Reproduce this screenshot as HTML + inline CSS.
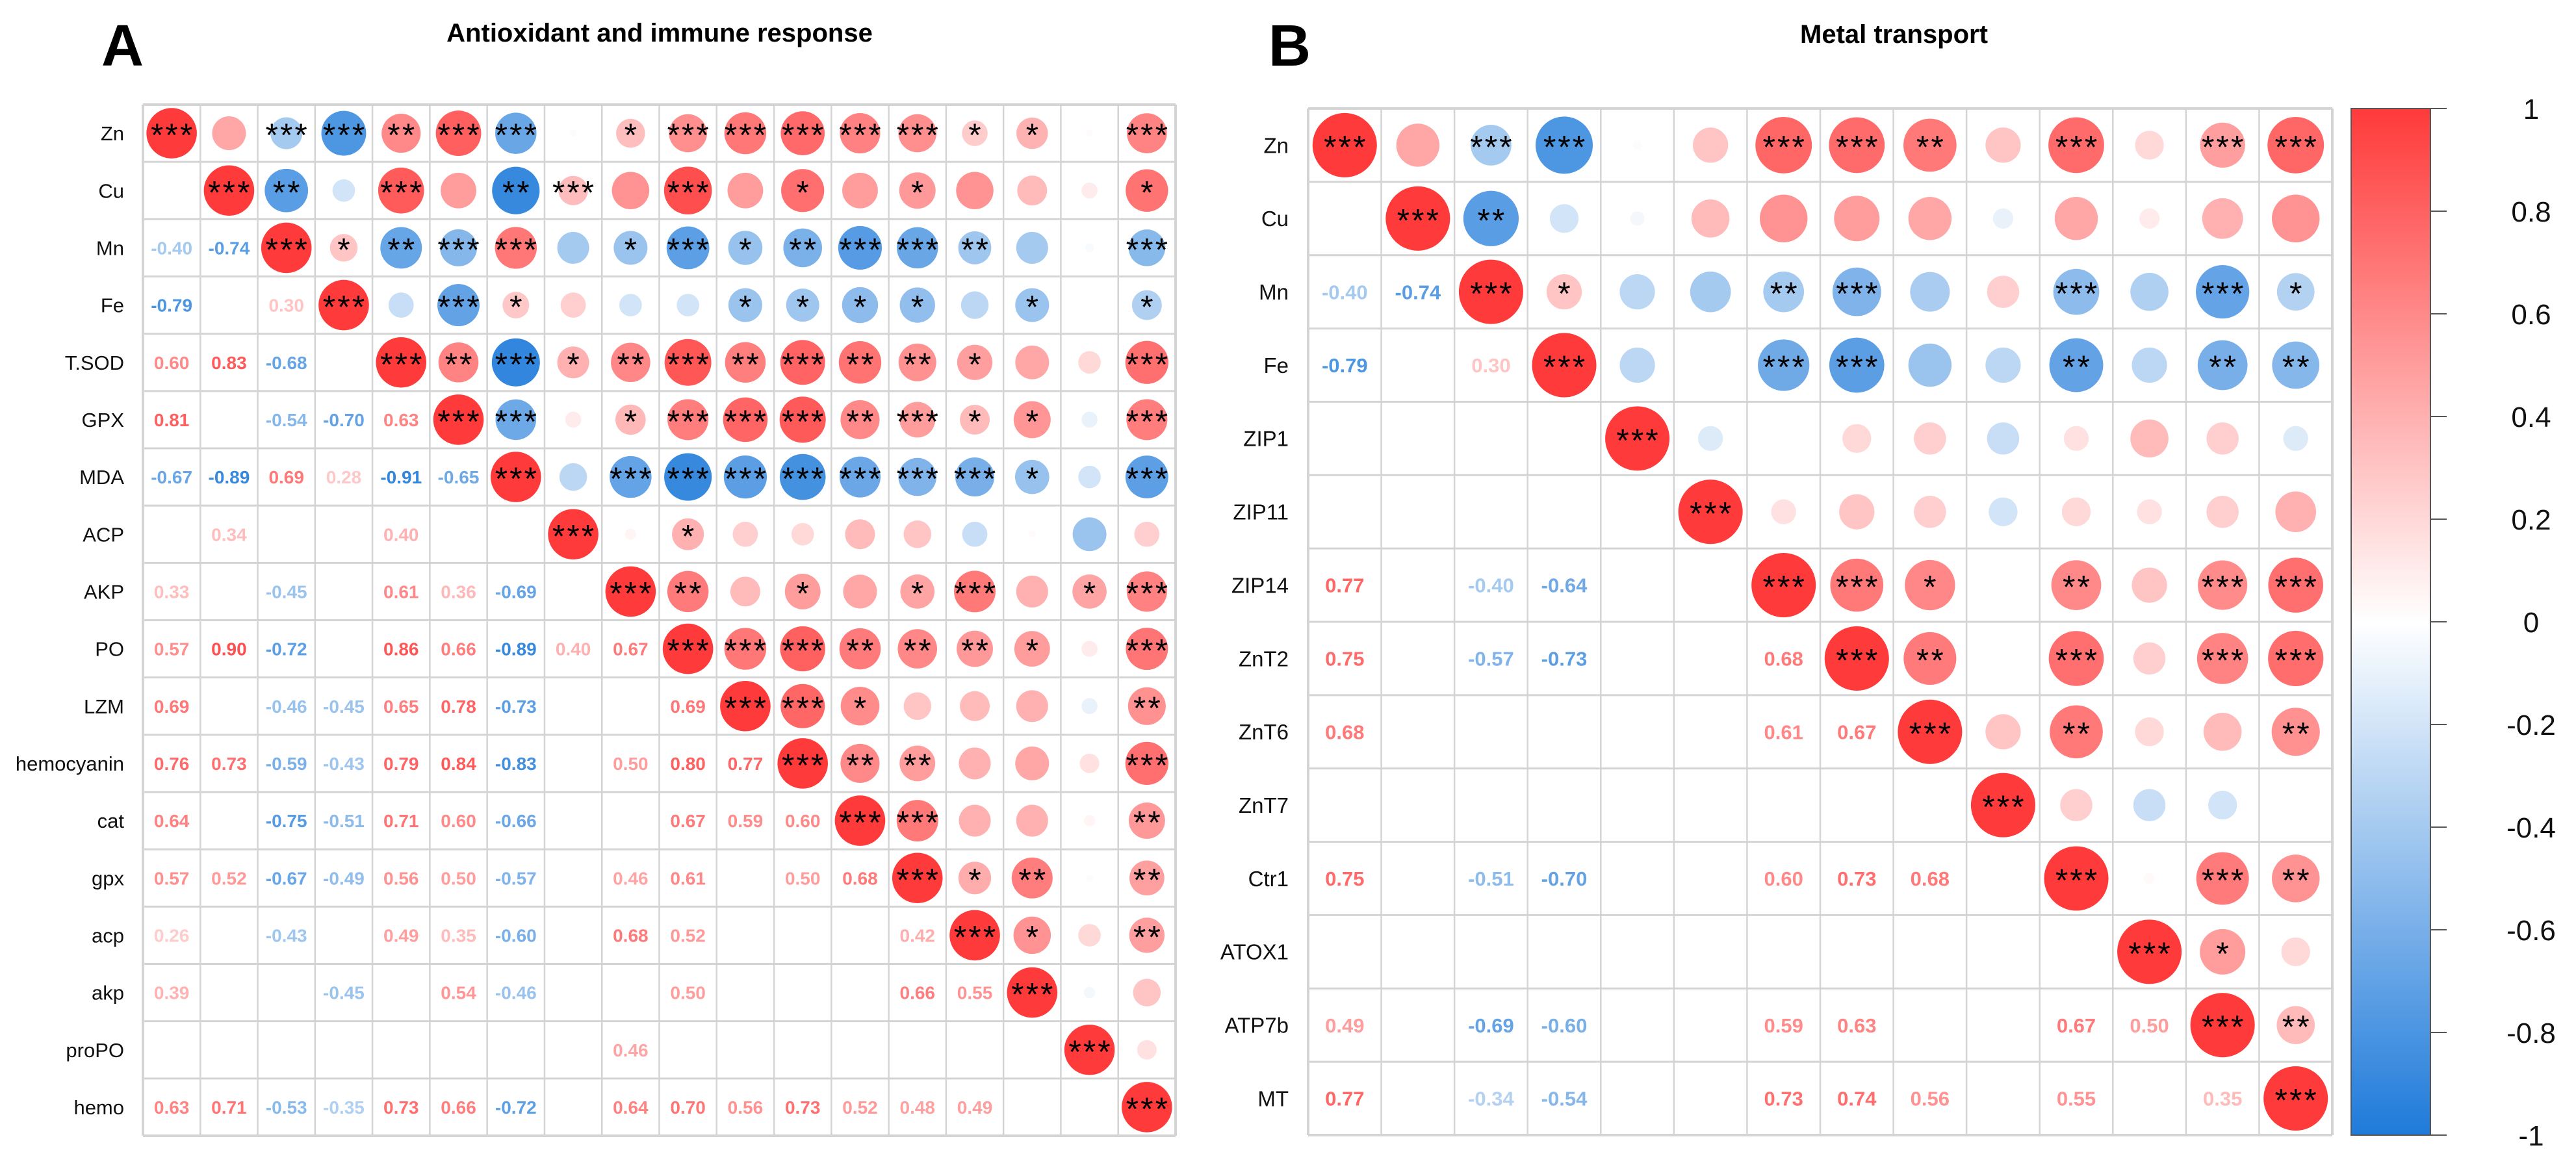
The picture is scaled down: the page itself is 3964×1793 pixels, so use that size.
<!DOCTYPE html>
<html><head><meta charset="utf-8"><title>Correlation plots</title>
<style>
html,body{margin:0;padding:0;background:#fff;}
svg{display:block;font-family:"Liberation Sans",Arial,sans-serif;}
</style></head>
<body>
<svg id="chart" xmlns="http://www.w3.org/2000/svg" width="3964" height="1793" viewBox="0 0 3964 1793">
<defs>
<linearGradient id="cbgrad" x1="0" y1="0" x2="0" y2="1">
<stop offset="0" stop-color="rgb(255,58,58)"/>
<stop offset="0.5" stop-color="rgb(255,255,255)"/>
<stop offset="1" stop-color="rgb(30,122,218)"/>
</linearGradient>
</defs>
<text x="156" y="101" font-size="90" font-weight="bold">A</text>
<text x="1015" y="64" font-size="40" font-weight="bold" text-anchor="middle">Antioxidant and immune response</text>
<text x="1952" y="101" font-size="90" font-weight="bold">B</text>
<text x="2770" y="66" font-size="40" font-weight="bold">Metal transport</text>
<g id="panelA"></g>
<g id="panelB"></g>
<g id="cbar"></g>
</svg>
<script>
// ---- Panel A data ----
const labelsA = ["Zn","Cu","Mn","Fe","T.SOD","GPX","MDA","ACP","AKP","PO","LZM","hemocyanin","cat","gpx","acp","akp","proPO","hemo"];
const corrA = [
 [],
 [0.45],
 [-0.40,-0.74],
 [-0.79,-0.20,0.30],
 [0.60,0.83,-0.68,-0.25],
 [0.81,0.50,-0.54,-0.70,0.63],
 [-0.67,-0.89,0.69,0.28,-0.91,-0.65],
 [0.02,0.34,-0.40,0.25,0.40,0.10,-0.30],
 [0.33,0.55,-0.45,-0.20,0.61,0.36,-0.69,0.05],
 [0.57,0.90,-0.72,-0.20,0.86,0.66,-0.89,0.40,0.67],
 [0.69,0.50,-0.46,-0.45,0.65,0.78,-0.73,0.25,0.35,0.69],
 [0.76,0.73,-0.59,-0.43,0.79,0.84,-0.83,0.20,0.50,0.80,0.77],
 [0.64,0.50,-0.75,-0.51,0.71,0.60,-0.66,0.35,0.45,0.67,0.59,0.60],
 [0.57,0.52,-0.67,-0.49,0.56,0.50,-0.57,0.30,0.46,0.61,0.30,0.50,0.68],
 [0.26,0.55,-0.43,-0.30,0.49,0.35,-0.60,-0.25,0.68,0.52,0.35,0.40,0.40,0.42],
 [0.39,0.35,-0.40,-0.45,0.45,0.54,-0.46,0.02,0.40,0.50,0.40,0.45,0.40,0.66,0.55],
 [0.02,0.10,-0.03,0.00,0.20,-0.10,-0.20,-0.45,0.46,0.10,-0.10,0.15,0.05,-0.02,0.20,-0.05],
 [0.63,0.71,-0.53,-0.35,0.73,0.66,-0.72,0.25,0.64,0.70,0.56,0.73,0.52,0.48,0.49,0.30,0.15]
];
const starsA = [
 [],
 [0],
 [3,2],
 [3,0,1],
 [2,3,2,0],
 [3,0,3,3,2],
 [3,2,3,1,3,3],
 [0,3,0,0,1,0,0],
 [1,0,1,0,2,1,3,0],
 [3,3,3,0,3,3,3,1,2],
 [3,0,1,1,2,3,3,0,0,3],
 [3,1,2,1,3,3,3,0,1,3,3],
 [3,0,3,1,2,2,3,0,0,2,1,2],
 [3,1,3,1,2,3,3,0,1,2,0,2,3],
 [1,0,2,0,1,1,3,0,3,2,0,0,0,1],
 [1,0,0,1,0,1,1,0,0,1,0,0,0,2,1],
 [0,0,0,0,0,0,0,0,1,0,0,0,0,0,0,0],
 [3,1,3,1,3,3,3,0,3,3,2,3,2,2,2,0,0]
];
// ---- Panel B data ----
const labelsB = ["Zn","Cu","Mn","Fe","ZIP1","ZIP11","ZIP14","ZnT2","ZnT6","ZnT7","Ctr1","ATOX1","ATP7b","MT"];
const corrB = [
 [],
 [0.45],
 [-0.40,-0.74],
 [-0.79,-0.20,0.30],
 [-0.02,-0.05,-0.30,-0.30],
 [0.30,0.35,-0.40,0.00,-0.15],
 [0.77,0.55,-0.40,-0.64,0.00,0.15],
 [0.75,0.50,-0.57,-0.73,0.20,0.30,0.68],
 [0.68,0.45,-0.38,-0.45,0.25,0.25,0.61,0.67],
 [0.30,-0.10,0.25,-0.30,-0.25,-0.20,0.00,0.00,0.30],
 [0.75,0.45,-0.51,-0.70,0.15,0.20,0.60,0.73,0.68,0.25],
 [0.20,0.10,-0.35,-0.30,0.35,0.15,0.30,0.25,0.20,-0.25,0.03],
 [0.49,0.40,-0.69,-0.60,0.25,0.25,0.59,0.63,0.35,-0.20,0.67,0.50],
 [0.77,0.55,-0.34,-0.54,-0.15,0.40,0.73,0.74,0.56,0.00,0.55,0.20,0.35]
];
const starsB = [
 [],
 [0],
 [3,2],
 [3,0,1],
 [0,0,0,0],
 [0,0,0,0,0],
 [3,0,2,3,0,0],
 [3,0,3,3,0,0,3],
 [2,0,0,0,0,0,1,2],
 [0,0,0,0,0,0,0,0,0],
 [3,0,3,2,0,0,2,3,2,0],
 [0,0,0,0,0,0,0,0,0,0,0],
 [3,0,3,2,0,0,3,3,0,0,3,1],
 [3,0,1,2,0,0,3,3,2,0,2,0,2]
];
const legendTicks = [1,0.8,0.6,0.4,0.2,0,-0.2,-0.4,-0.6,-0.8,-1];

const NS = "http://www.w3.org/2000/svg";
function mk(tag, attrs, parent){
  const e = document.createElementNS(NS, tag);
  for (const k in attrs) e.setAttribute(k, attrs[k]);
  parent.appendChild(e);
  return e;
}
function colorFor(r){
  const pos = [255,58,58], neg = [30,122,218];
  const t = Math.min(1, Math.abs(r));
  const c = r >= 0 ? pos : neg;
  const v = c.map(ch => Math.round(255 + (ch - 255) * t));
  return "rgb(" + v.join(",") + ")";
}
function drawPanel(g, labels, corr, stars, x0, y0, w, h, labFont, numFont, labelRight, prefix){
  const n = labels.length;
  const cw = w / n, ch = h / n;
  const xs = j => x0 + cw * (j + 0.5);
  const ys = i => y0 + ch * (i + 0.5);
  const getR = (i, j) => i === j ? 1 : (i > j ? corr[i][j] : corr[j][i]);
  const getS = (i, j) => i === j ? 3 : (i > j ? stars[i][j] : stars[j][i]);
  for (let k = 0; k <= n; k++) {
    const vl = mk("line", {x1: x0 + cw*k, y1: y0, x2: x0 + cw*k, y2: y0 + h, stroke: "#d4d4d4", "stroke-width": (k===0||k===n)?4:2.5}, g);
    
    
    const hl = mk("line", {x1: x0, y1: y0 + ch*k, x2: x0 + w, y2: y0 + ch*k, stroke: "#d4d4d4", "stroke-width": (k===0||k===n)?4:3}, g);
    
    
  }
  for (let i = 0; i < n; i++) {
    const lab = mk("text", {x: labelRight, y: ys(i) + labFont*0.36, "font-size": labFont, "text-anchor": "end", fill: "#111"}, g);
    lab.textContent = labels[i];
    
    
    for (let j = 0; j < n; j++) {
      const r = getR(i, j), s = getS(i, j);
      if (j >= i) {
        const d = 0.88 * Math.min(cw, ch) * Math.sqrt(Math.abs(r));
        if (d > 0.5) {
          const c = mk("circle", {cx: xs(j), cy: ys(i), r: d/2, fill: colorFor(r)}, g);
          
          
        }
        if (s > 0) {
          const st = mk("text", {x: xs(j) + 1.5, y: ys(i) + 20, "font-size": 50, "text-anchor": "middle", fill: "#000", "letter-spacing": "3"}, g);
          st.textContent = "*".repeat(s);
          
          
        }
      } else if (s > 0) {
        const t = mk("text", {x: xs(j), y: ys(i) + numFont*0.36, "font-size": numFont, "font-weight": "bold", "text-anchor": "middle", fill: colorFor(r)}, g);
        t.textContent = r.toFixed(2);
        
        
      }
    }
  }
}
drawPanel(document.getElementById("panelA"), labelsA, corrA, starsA, 220, 161, 1589, 1587, 31, 28, 191, "a");
drawPanel(document.getElementById("panelB"), labelsB, corrB, starsB, 2013, 167, 1576, 1580, 33, 31, 1983, "b");

(function(){
  const g = document.getElementById("cbar");
  const x0 = 3618, x1 = 3740, yTop = 167, yBot = 1747;
  const ly = v => yTop + (1 - v) / 2 * (yBot - yTop);
  const rect = mk("rect", {x: x0, y: yTop, width: x1 - x0, height: yBot - yTop, fill: "url(#cbgrad)", stroke: "#555", "stroke-width": 2}, g);
  
  
  legendTicks.forEach(v => {
    const tl = mk("line", {x1: x1, y1: ly(v), x2: 3765, y2: ly(v), stroke: "#555", "stroke-width": 2}, g);
    
    
    const tx = mk("text", {x: 3895, y: ly(v) + 16, "font-size": 44, "text-anchor": "middle", fill: "#111"}, g);
    tx.textContent = String(v);
    
    
  });
})();
</script>
</body></html>
